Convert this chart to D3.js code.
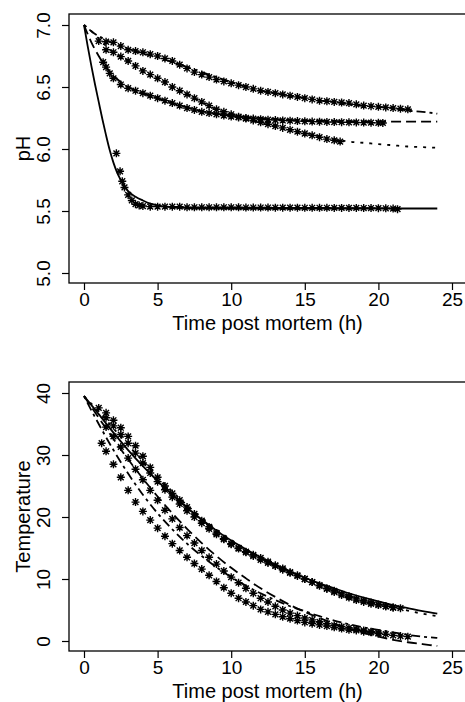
<!DOCTYPE html>
<html>
<head>
<meta charset="utf-8">
<script src="https://cdn.jsdelivr.net/npm/d3@7"></script>
<style>
  body { margin: 0; background: #fff; }
  svg text { font-family: "Liberation Sans", Arial, Helvetica, sans-serif; fill: #000; }
</style>
</head>
<body>
<div id="graph"></div>
<script>
// ---- data ----
// pH panel: observed points [time h, pH]
var phObsSolid = [[2.2,5.965],[2.45,5.82],[2.6,5.74],[2.75,5.69],[3,5.63],[3.25,5.585],[3.5,5.555],[3.75,5.545],[4,5.54],[4.5,5.535],[5,5.535],[5.5,5.535],[6,5.535],[6.5,5.535],[7,5.53],[7.5,5.53],[8,5.53],[8.5,5.53],[9,5.53],[9.5,5.53],[10,5.53],[10.5,5.53],[11,5.528],[11.5,5.528],[12,5.528],[12.5,5.528],[13,5.527],[13.5,5.527],[14,5.527],[14.5,5.527],[15,5.526],[15.5,5.526],[16,5.526],[16.5,5.526],[17,5.525],[17.5,5.525],[18,5.525],[18.5,5.525],[19,5.524],[19.5,5.524],[20,5.523],[20.5,5.522],[21,5.52],[21.3,5.515]];
var phObsTop = [[1,6.87],[1.5,6.865],[2,6.86],[2.5,6.83],[3,6.8],[3.5,6.79],[4,6.78],[4.5,6.765],[5,6.75],[5.5,6.73],[6,6.71],[6.5,6.68],[7,6.65],[7.5,6.62],[8,6.6],[8.5,6.58],[9,6.56],[9.5,6.545],[10,6.53],[10.5,6.515],[11,6.5],[11.5,6.485],[12,6.47],[12.5,6.46],[13,6.45],[13.5,6.44],[14,6.43],[14.5,6.42],[15,6.41],[15.5,6.4],[16,6.39],[16.5,6.385],[17,6.38],[17.5,6.375],[18,6.37],[18.5,6.36],[19,6.35],[19.5,6.345],[20,6.34],[20.5,6.335],[21,6.33],[21.5,6.325],[22,6.32]];
var phObsMid = [[1.5,6.8],[2,6.78],[2.5,6.745],[3,6.71],[3.5,6.67],[4,6.63],[4.5,6.6],[5,6.57],[5.5,6.54],[6,6.5],[6.5,6.47],[7,6.44],[7.5,6.41],[8,6.38],[8.5,6.35],[9,6.32],[9.5,6.3],[10,6.28],[10.5,6.26],[11,6.245],[11.5,6.23],[12,6.215],[12.5,6.2],[13,6.185],[13.5,6.17],[14,6.155],[14.5,6.14],[15,6.125],[15.5,6.11],[16,6.095],[16.5,6.08],[17,6.07],[17.4,6.06]];
var phObsLow = [[1.3,6.7],[1.5,6.66],[1.75,6.61],[2,6.57],[2.5,6.52],[3,6.49],[3.5,6.47],[4,6.45],[4.5,6.43],[5,6.41],[5.5,6.39],[6,6.37],[6.5,6.35],[7,6.33],[7.5,6.315],[8,6.3],[8.5,6.29],[9,6.28],[9.5,6.27],[10,6.262],[10.5,6.255],[11,6.25],[11.5,6.245],[12,6.24],[12.5,6.236],[13,6.233],[13.5,6.23],[14,6.228],[14.5,6.225],[15,6.223],[15.5,6.221],[16,6.22],[16.5,6.218],[17,6.217],[17.5,6.216],[18,6.215],[18.5,6.214],[19,6.213],[19.5,6.212],[20,6.211],[20.3,6.21]];
// pH panel: fitted curves
var phFitSolid = [[0,7],[0.25,6.83],[0.5,6.67],[0.75,6.52],[1,6.38],[1.25,6.24],[1.5,6.11],[1.75,5.99],[2,5.89],[2.25,5.81],[2.5,5.75],[2.75,5.7],[3,5.66],[3.5,5.615],[4,5.585],[4.5,5.56],[5,5.545],[6,5.53],[7,5.524],[8,5.521],[10,5.52],[24,5.52]];
var phFitTop = [[0,7],[0.5,6.95],[1,6.91],[1.5,6.88],[2,6.85],[3,6.81],[4,6.77],[5,6.74],[6,6.7],[7,6.66],[8,6.62],[9,6.58],[10,6.54],[11,6.5],[12,6.47],[13,6.45],[14,6.43],[15,6.41],[16,6.39],[17,6.38],[18,6.36],[19,6.35],[20,6.34],[21,6.33],[22,6.31],[23,6.3],[24,6.285]];
var phFitMid = [[0,7],[0.5,6.95],[1,6.89],[1.5,6.83],[2,6.78],[3,6.71],[4,6.63],[5,6.56],[6,6.5],[7,6.44],[8,6.38],[9,6.32],[10,6.28],[11,6.245],[12,6.21],[13,6.18],[14,6.155],[15,6.13],[16,6.1],[17,6.08],[18,6.06],[19,6.05],[20,6.04],[21,6.03],[22,6.02],[23,6.015],[24,6.01]];
var phFitLow = [[0,7],[0.5,6.86],[1,6.75],[1.5,6.66],[2,6.59],[2.5,6.54],[3,6.5],[4,6.45],[5,6.41],[6,6.37],[7,6.335],[8,6.305],[9,6.285],[10,6.27],[12,6.25],[14,6.235],[16,6.228],[18,6.224],[20,6.222],[22,6.221],[24,6.22]];

// temperature panel: observed points [time h, temperature]
var tObsA = [[1,37.6],[1.5,36.8],[2,35.6],[2.5,34.4],[3,33],[3.5,31.5],[4,29.8],[4.5,28],[5,26.4],[5.5,25],[6,23.8],[6.5,22.7],[7,21.6],[7.5,20.5],[8,19.4],[8.5,18.4],[9,17.4],[9.5,16.5],[10,15.7],[10.5,15],[11,14.4],[11.5,13.9],[12,13.4],[12.5,12.8],[13,12.2],[13.5,11.7],[14,11.1],[14.5,10.6],[15,10],[15.5,9.5],[16,8.9],[16.5,8.4],[17,7.9],[17.5,7.4],[18,7],[18.5,6.6],[19,6.3],[19.5,6],[20,5.8],[20.5,5.6],[21,5.4],[21.5,5.3]];
var tObsB = [[1.5,36],[2,34.7],[2.5,33.3],[3,31.9],[3.5,30.3],[4,28.7],[4.5,27.1],[5,25.7],[5.5,24.4],[6,23.2],[6.5,22.1],[7,21],[7.5,20],[8,19],[8.5,18.1],[9,17.2],[9.5,16.4],[10,15.6],[10.5,14.9],[11,14.3],[11.5,13.7],[12,13.1],[12.5,12.6],[13,12.1],[13.5,11.5],[14,11],[14.5,10.5],[15,10],[15.5,9.5],[16,9],[16.5,8.5],[17,8.1],[17.5,7.6],[18,7.2],[18.5,6.8],[19,6.5],[19.5,6.2],[20,5.9],[20.5,5.6],[21,5.4]];
var tObsC = [[1.5,34.5],[2,33],[2.5,31.3],[3,29.5],[3.5,27.7],[4,26],[4.5,24.3],[5,22.7],[5.5,21.1],[6,19.7],[6.5,18.3],[7,17],[7.5,15.8],[8,14.6],[8.5,13.5],[9,12.4],[9.5,11.3],[10,10.3],[10.5,9.4],[11,8.5],[11.5,7.7],[12,6.9],[12.5,6.3],[13,5.6],[13.5,5],[14,4.5],[14.5,4.1],[15,3.7],[15.5,3.4],[16,3.1],[16.5,2.8],[17,2.5],[17.5,2.3],[18,2.1],[18.5,1.9],[19,1.7],[19.5,1.5],[20,1.3]];
var tObsD = [[1.2,31.9],[1.5,30.6],[2,28.5],[2.5,26.4],[3,24.3],[3.5,22.4],[4,20.9],[4.5,19.5],[5,18.2],[5.5,16.9],[6,15.7],[6.5,14.6],[7,13.5],[7.5,12.5],[8,11.6],[8.5,10.6],[9,9.6],[9.5,8.6],[10,7.7],[10.5,6.9],[11,6.3],[11.5,5.7],[12,5.1],[12.5,4.7],[13,4.3],[13.5,3.9],[14,3.6],[14.5,3.3],[15,3],[15.5,2.8],[16,2.6],[16.5,2.4],[17,2.2],[17.5,2],[18,1.8],[18.5,1.7],[19,1.5],[19.5,1.4],[20,1.2],[20.5,1.1],[21,0.9],[21.5,0.8],[22,0.7]];
// temperature panel: fitted curves
var tFitA = [[0,39.5],[1,36.6],[2,33.6],[3,30.8],[4,28.2],[5,25.8],[6,23.6],[7,21.5],[8,19.6],[9,17.8],[10,16.2],[11,14.8],[12,13.5],[13,12.3],[14,11.2],[15,10.2],[16,9.3],[17,8.5],[18,7.7],[19,7],[20,6.4],[21,5.8],[22,5.3],[23,4.8],[24,4.4]];
var tFitB = [[0,39.5],[1,37],[2,34.3],[3,31.6],[4,29],[5,26.5],[6,24.1],[7,21.9],[8,19.9],[9,18],[10,16.3],[11,14.8],[12,13.4],[13,12.1],[14,11],[15,9.9],[16,9],[17,8.1],[18,7.3],[19,6.6],[20,6],[21,5.4],[22,4.9],[23,4.4],[24,4]];
var tFitC = [[0,39.5],[1,36],[2,32.6],[3,29.3],[4,26.2],[5,23.3],[6,20.6],[7,18.1],[8,15.8],[9,13.7],[10,11.8],[11,10.1],[12,8.5],[13,7.1],[14,5.8],[15,4.7],[16,3.7],[17,2.8],[18,2],[19,1.3],[20,0.7],[21,0.2],[22,-0.2],[23,-0.5],[24,-0.8]];
var tFitD = [[0,39.5],[0.5,37.2],[1,35],[2,30.8],[3,27],[4,23.6],[5,20.6],[6,18],[7,15.7],[8,13.7],[9,11.9],[10,10.3],[11,8.9],[12,7.7],[13,6.6],[14,5.6],[15,4.8],[16,4],[17,3.3],[18,2.7],[19,2.2],[20,1.8],[21,1.4],[22,1],[23,0.7],[24,0.5]];

var xTicks = [0, 5, 10, 15, 20, 25];
var phTicks = [5.0, 5.5, 6.0, 6.5, 7.0];
var tempTicks = [0, 10, 20, 30, 40];

// line types, R style (solid, dashed, dotted, dotdash)
var lty = { solid: null, dashed: "10,5", dotted: "3,6", dotdash: "3,4,9,4" };

var W = 465, H = 702;
var svg = d3.select("div#graph").append("svg")
	.attr("width", W)
	.attr("height", H);

// asterisk symbol (pch = 8)
var star = "M-4,0H4M0,-4V4M-2.9,-2.9L2.9,2.9M-2.9,2.9L2.9,-2.9";

function panel(opt) {
	var g = svg.append("g");
	var x = d3.scaleLinear().domain([0, 25]).range([84, 452]);
	var y = d3.scaleLinear().domain(opt.yDomain).range(opt.yRange);
	var box = opt.box;

	g.append("rect")
		.attr("x", box.left).attr("y", box.top)
		.attr("width", box.right - box.left).attr("height", box.bottom - box.top)
		.attr("fill", "none").attr("stroke", "#000").attr("stroke-width", 1.3);

	// x axis (R style, no domain line beyond the box)
	var gx = g.append("g")
		.attr("transform", "translate(0," + box.bottom + ")")
		.call(d3.axisBottom(x).tickValues(xTicks).tickSize(7).tickSizeOuter(0).tickPadding(2));
	gx.select(".domain").remove();
	gx.selectAll(".tick line").attr("stroke-width", 1.2);
	gx.selectAll("text").attr("font-size", 19).attr("dy", "0.74em")
		.attr("font-family", "'Liberation Sans', Arial, sans-serif");

	// y axis
	var gy = g.append("g")
		.attr("transform", "translate(" + box.left + ",0)")
		.call(d3.axisLeft(y).tickValues(opt.yTicks).tickSize(7).tickFormat(opt.fmt));
	gy.select(".domain").remove();
	gy.selectAll(".tick line").attr("stroke-width", 1.2);
	gy.selectAll("text")
		.attr("font-size", 19)
		.attr("font-family", "'Liberation Sans', Arial, sans-serif")
		.attr("text-anchor", "middle")
		.attr("x", null).attr("dy", null)
		.attr("transform", "translate(-19,0) rotate(-90)");

	// axis titles
	g.append("text")
		.attr("x", (box.left + box.right) / 2)
		.attr("y", opt.xTitleY)
		.attr("text-anchor", "middle")
		.attr("font-size", 20)
		.text("Time post mortem (h)");
	g.append("text")
		.attr("transform", "translate(30," + ((box.top + box.bottom) / 2) + ") rotate(-90)")
		.attr("text-anchor", "middle")
		.attr("font-size", 20)
		.text(opt.yTitle);

	var line = d3.line()
		.x(function(d) { return x(d[0]); })
		.y(function(d) { return y(d[1]); })
		.curve(d3.curveMonotoneX);

	opt.fits.forEach(function(f) {
		g.append("path")
			.datum(f.data)
			.attr("fill", "none")
			.attr("stroke", "#000")
			.attr("stroke-width", 1.8)
			.attr("stroke-dasharray", lty[f.lty])
			.attr("d", line);
	});

	opt.obs.forEach(function(series) {
		g.selectAll(null)
			.data(series).enter().append("path")
			.attr("d", star)
			.attr("transform", function(d) { return "translate(" + x(d[0]) + "," + y(d[1]) + ")"; })
			.attr("fill", "none")
			.attr("stroke", "#000")
			.attr("stroke-width", 1.4);
	});
}

panel({
	box: { left: 69, right: 466, top: 14, bottom: 283 },
	yDomain: [5, 7], yRange: [273, 25],
	yTicks: phTicks, fmt: d3.format(".1f"),
	yTitle: "pH", xTitleY: 330,
	obs: [phObsSolid, phObsTop, phObsMid, phObsLow],
	fits: [
		{ data: phFitSolid, lty: "solid" },
		{ data: phFitTop, lty: "dotdash" },
		{ data: phFitMid, lty: "dotted" },
		{ data: phFitLow, lty: "dashed" }
	]
});

panel({
	box: { left: 69, right: 466, top: 382, bottom: 651 },
	yDomain: [0, 40], yRange: [641, 393],
	yTicks: tempTicks, fmt: d3.format("d"),
	yTitle: "Temperature", xTitleY: 698,
	obs: [tObsA, tObsB, tObsC, tObsD],
	fits: [
		{ data: tFitA, lty: "solid" },
		{ data: tFitB, lty: "dotted" },
		{ data: tFitC, lty: "dashed" },
		{ data: tFitD, lty: "dotdash" }
	]
});
</script>
</body>
</html>
